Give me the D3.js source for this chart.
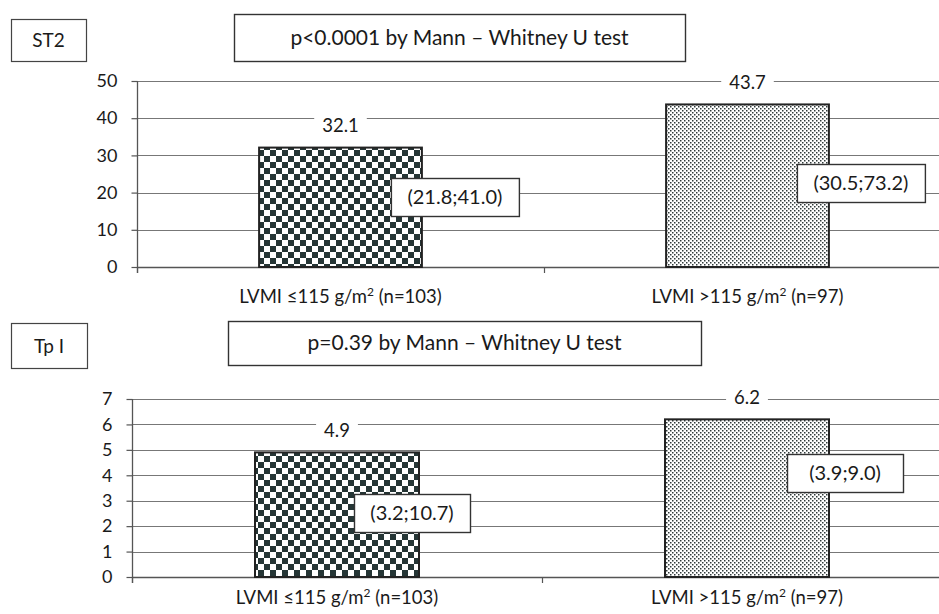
<!DOCTYPE html>
<html><head><meta charset="utf-8">
<script src="https://cdn.jsdelivr.net/npm/d3@7"></script>
<style>
html,body{margin:0;padding:0;background:#fff;}
svg{display:block;font-family:Lato, "Open Sans", sans-serif;}
</style></head>
<body>
<svg id="c" width="939" height="614"></svg>
<script>
// ---- data ----
const categories = ["LVMI \u2264115 g/m\u00b2 (n=103)", "LVMI >115 g/m\u00b2 (n=97)"];
const st2Medians = [32.1, 43.7];
const st2IQR = ["(21.8;41.0)", "(30.5;73.2)"];
const st2Ticks = [0, 10, 20, 30, 40, 50];
const tpiMedians = [4.9, 6.2];
const tpiIQR = ["(3.2;10.7)", "(3.9;9.0)"];
const tpiTicks = [0, 1, 2, 3, 4, 5, 6, 7];
const panelNames = ["ST2", "Tp I"];
const pTexts = ["p<0.0001 by Mann \u2013 Whitney U test", "p=0.39 by Mann \u2013 Whitney U test"];

const svg = d3.select("#c");
const defs = svg.append("defs");
// checkerboard
const chk = defs.append("pattern").attr("id","chk").attr("patternUnits","userSpaceOnUse")
  .attr("width",12).attr("height",12);
chk.append("rect").attr("width",12).attr("height",12).attr("fill","#fff");
chk.append("rect").attr("width",6).attr("height",6).attr("fill","#253535");
chk.append("rect").attr("x",6).attr("y",6).attr("width",6).attr("height",6).attr("fill","#253535");
// dots
const dot = defs.append("pattern").attr("id","dot").attr("patternUnits","userSpaceOnUse")
  .attr("width",4).attr("height",4);
dot.append("rect").attr("width",4).attr("height",4).attr("fill","#fff");
dot.append("rect").attr("x",0).attr("y",0).attr("width",1.5).attr("height",1.5).attr("fill","#2f3a3a");
dot.append("rect").attr("x",2).attr("y",2).attr("width",1.5).attr("height",1.5).attr("fill","#2f3a3a");
const fills = ["url(#chk)", "url(#dot)"];

const panels = [
  {name: panelNames[0], p: pTexts[0], vals: st2Medians, iqr: st2IQR, ticks: st2Ticks,
   x0: 137, band: 407, yBase: 267, yTop: 81, catDy: 36,
   nameBox: [11, 19, 75, 42], pBox: [234, 14, 451, 47],
   boxes: [{dx: -31, v: 18.8, w: 128}, {dx: -32, v: 22.6, w: 128}]},
  {name: panelNames[1], p: pTexts[1], vals: tpiMedians, iqr: tpiIQR, ticks: tpiTicks,
   x0: 132, band: 410, yBase: 577, yTop: 399, catDy: 27,
   nameBox: [11, 323, 76, 45], pBox: [228, 321, 473, 44],
   boxes: [{dx: -65, v: 2.52, w: 116}, {dx: -42, v: 4.09, w: 116}]}
];

panels.forEach(P => {
  const g = svg.append("g");
  const maxT = P.ticks[P.ticks.length-1];
  const y = d3.scaleLinear().domain([0, maxT]).range([P.yBase, P.yTop]);
  const x = d3.scaleBand().domain(categories).range([P.x0, P.x0 + 2*P.band]).paddingInner(0.6).paddingOuter(0.3);

  // name box
  g.append("rect").attr("x",P.nameBox[0]+0.5).attr("y",P.nameBox[1]+0.5)
    .attr("width",P.nameBox[2]).attr("height",P.nameBox[3])
    .attr("fill","#fff").attr("stroke","#444").attr("stroke-width",1.2);
  g.append("text").attr("x",P.nameBox[0]+P.nameBox[2]/2).attr("y",P.nameBox[1]+P.nameBox[3]/2+7)
    .attr("text-anchor","middle").attr("font-size",19).attr("fill","#1a1a1a").text(P.name);
  // p box
  g.append("rect").attr("x",P.pBox[0]+0.5).attr("y",P.pBox[1]+0.5)
    .attr("width",P.pBox[2]).attr("height",P.pBox[3])
    .attr("fill","#fff").attr("stroke","#333").attr("stroke-width",1.4);
  g.append("text").attr("x",P.pBox[0]+P.pBox[2]/2).attr("y",P.pBox[1]+P.pBox[3]/2+7)
    .attr("text-anchor","middle").attr("font-size",21).attr("fill","#1a1a1a").text(P.p);

  // gridlines
  g.append("g").selectAll("line").data(P.ticks).join("line")
    .attr("x1",P.x0).attr("x2",939)
    .attr("y1",d=>Math.round(y(d))+0.5).attr("y2",d=>Math.round(y(d))+0.5)
    .attr("stroke",d=> d===0 ? "#555" : "#777").attr("stroke-width",d=>d===0?1.6:1.2);

  // y axis
  const ya = d3.axisLeft(y).tickValues(P.ticks).tickSize(6).tickPadding(14).tickFormat(d3.format("d"));
  const yg = g.append("g").attr("transform",`translate(${P.x0+0.5},0)`).call(ya);
  yg.select(".domain").remove();
  yg.selectAll(".tick line").attr("stroke","#555").attr("stroke-width",1.2);
  yg.selectAll(".tick text").attr("font-size",18).attr("fill","#1a1a1a").attr("font-family","Lato, sans-serif");
  g.append("line").attr("x1",P.x0+0.5).attr("x2",P.x0+0.5).attr("y1",P.yTop).attr("y2",P.yBase+6)
    .attr("stroke","#555").attr("stroke-width",1.3);
  // category ticks
  g.append("g").selectAll("line").data([0,1,2]).join("line")
    .attr("x1",d=>P.x0+d*P.band+0.5).attr("x2",d=>P.x0+d*P.band+0.5)
    .attr("y1",P.yBase).attr("y2",P.yBase+6).attr("stroke","#555").attr("stroke-width",1.2);

  // bars
  g.append("g").selectAll("rect").data(P.vals).join("rect")
    .attr("x",(d,i)=>x(categories[i])).attr("width",x.bandwidth())
    .attr("y",d=>y(d)).attr("height",d=>P.yBase-y(d))
    .attr("fill",(d,i)=>fills[i]).attr("stroke","#222").attr("stroke-width",2);

  // value labels
  P.vals.forEach((v,i)=>{
    const cx = x(categories[i]) + x.bandwidth()/2;
    const cy = y(v) - 22;
    const t = g.append("text").attr("x",cx).attr("y",cy+6.5).attr("text-anchor","middle")
      .attr("font-size",18.5).attr("fill","#1a1a1a").text(d3.format(".1f")(v));
    const bb = t.node().getBBox();
    g.insert("rect", () => t.node()).attr("x",bb.x-8).attr("y",cy-9).attr("width",bb.width+16).attr("height",18).attr("fill","#fff");
  });

  // IQR boxes
  P.vals.forEach((v,i)=>{
    const b = P.boxes[i];
    const bx = x(categories[i]) + x.bandwidth() + b.dx;
    const cy = y(b.v);
    g.append("rect").attr("x",bx+0.5).attr("y",Math.round(cy-19)+0.5).attr("width",b.w).attr("height",38)
      .attr("fill","#fff").attr("stroke","#333").attr("stroke-width",1.4);
    g.append("text").attr("x",bx+b.w/2).attr("y",cy+7).attr("text-anchor","middle")
      .attr("font-size",20).attr("fill","#1a1a1a").text(P.iqr[i]);
  });

  // category labels (with superscript 2)
  categories.forEach((c,i)=>{
    const cx = x(c) + x.bandwidth()/2;
    const parts = c.split("\u00b2");
    const t = g.append("text").attr("x",cx).attr("y",P.yBase+P.catDy).attr("text-anchor","middle")
      .attr("font-size",18.5).attr("fill","#1a1a1a");
    t.append("tspan").text(parts[0]);
    t.append("tspan").attr("dy",-7).attr("font-size",12).text("2");
    t.append("tspan").attr("dy",7).text(parts[1]);
  });
});
</script>
</body></html>
